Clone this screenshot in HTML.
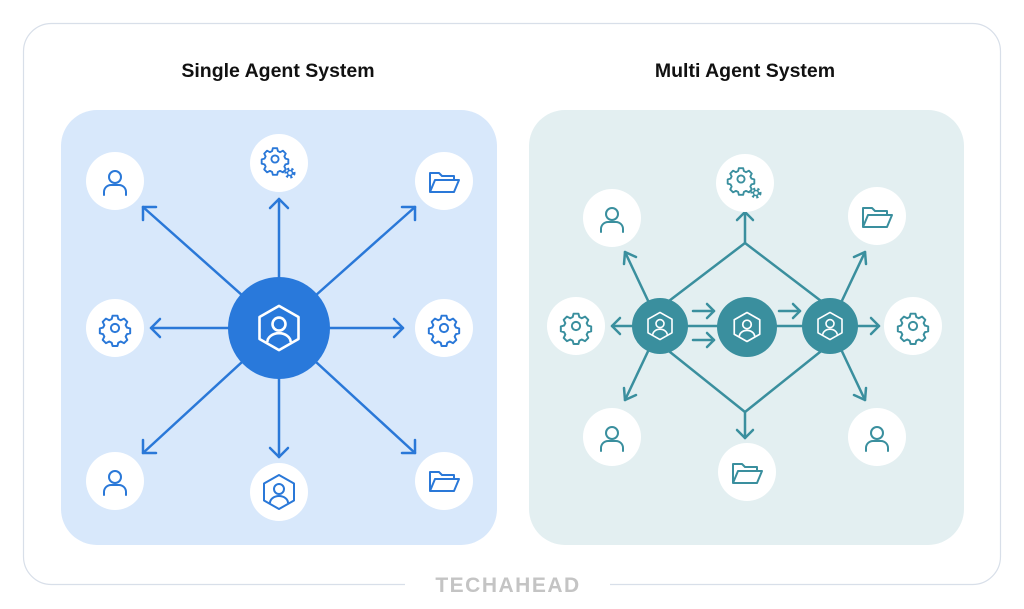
<!DOCTYPE html>
<html><head><meta charset="utf-8"><style>
html,body{margin:0;padding:0;background:#fff;}
svg{display:block}
text{font-family:"Liberation Sans",sans-serif}
</style></head><body>
<svg width="1024" height="609" viewBox="0 0 1024 609" xmlns="http://www.w3.org/2000/svg">
<defs>
<g id="person" fill="none" stroke-width="2" stroke-linecap="round">
  <circle cx="0" cy="-6" r="6"/>
  <path d="M-11 12 V9 a7 7 0 0 1 7 -7 h8 a7 7 0 0 1 7 7 V12"/>
</g>
<g id="gear" fill="none" stroke-width="2.4" stroke-linejoin="round">
  <g transform="scale(0.82)">
  <path d="M-3 -15 h6 l1 4 l3 1.5 l4 -2 l4 4 l-2 4 l1.5 3 l4 1 v6 l-4 1 l-1.5 3 l2 4 l-4 4 l-4 -2 l-3 1.5 l-1 4 h-6 l-1 -4 l-3 -1.5 l-4 2 l-4 -4 l2 -4 l-1.5 -3 l-4 -1 v-6 l4 -1 l1.5 -3 l-2 -4 l4 -4 l4 2 l3 -1.5 z"/>
  <circle cx="0" cy="0" r="5"/>
  </g>
</g>
<g id="folder" fill="none" stroke-width="2" stroke-linejoin="round">
  <path d="M-14 10 V-9 h9 l3 3 h12 v4"/>
  <path d="M-14 10 l5 -12 h24 l-5 12 z"/>
</g>
<g id="agent" fill="none" stroke-width="2" stroke-linejoin="round">
  <path d="M0 -17 L15 -8.5 V8.5 L0 17 L-15 8.5 V-8.5 Z"/>
  <circle cx="0" cy="-3" r="5"/>
  <path d="M-9 11 a9 7 0 0 1 18 0"/>
</g>
<g id="cog2" fill="none" stroke-width="2" stroke-linejoin="round">
  <g transform="translate(-4 -4) scale(0.72)"><path d="M-3 -15 h6 l1 4 l3 1.5 l4 -2 l4 4 l-2 4 l1.5 3 l4 1 v6 l-4 1 l-1.5 3 l2 4 l-4 4 l-4 -2 l-3 1.5 l-1 4 h-6 l-1 -4 l-3 -1.5 l-4 2 l-4 -4 l2 -4 l-1.5 -3 l-4 -1 v-6 l4 -1 l1.5 -3 l-2 -4 l4 -4 l4 2 l3 -1.5 z" stroke-width="2.6"/><circle r="5" stroke-width="2.6"/></g>
  <circle cx="11" cy="10" r="4" stroke-dasharray="2 2" stroke-width="3"/>
  <circle cx="11" cy="10" r="2.5" stroke-width="1.5"/>
</g>
</defs>
<rect x="23.5" y="23.5" width="977" height="561" rx="28" fill="#fff" stroke="#d8dfe9" stroke-width="1.2"/>
<rect x="405" y="578" width="205" height="14" fill="#fff"/>
<text x="508" y="592" text-anchor="middle" font-size="21" font-weight="bold" fill="#c4c4c4" letter-spacing="1.5">TECHAHEAD</text>
<text x="278" y="77" text-anchor="middle" font-size="19.5" font-weight="bold" fill="#111">Single Agent System</text>
<text x="745" y="77" text-anchor="middle" font-size="19.5" font-weight="bold" fill="#111">Multi Agent System</text>
<rect x="61" y="110" width="436" height="435" rx="36" fill="#d8e8fb"/>
<rect x="529" y="110" width="435" height="435" rx="36" fill="#e3eff1"/>

<g stroke="#2a78d8" stroke-width="2.5" fill="none" stroke-linecap="round" stroke-linejoin="round">
<line x1="279" y1="328" x2="143" y2="207"/><path d="M143 220 L143 207 L156 207"/>
<line x1="279" y1="328" x2="279" y2="199"/><path d="M270 208 L279 199 L288 208"/>
<line x1="279" y1="328" x2="415" y2="207"/><path d="M402 207 L415 207 L415 220"/>
<line x1="279" y1="328" x2="151" y2="328"/><path d="M160 319 L151 328 L160 337"/>
<line x1="279" y1="328" x2="403" y2="328"/><path d="M394 319 L403 328 L394 337"/>
<line x1="279" y1="328" x2="143" y2="453"/><path d="M143 440 L143 453 L156 453"/>
<line x1="279" y1="328" x2="279" y2="457"/><path d="M270 448 L279 457 L288 448"/>
<line x1="279" y1="328" x2="415" y2="453"/><path d="M402 453 L415 453 L415 440"/>
</g>
<circle cx="279" cy="328" r="51" fill="#2979db"/>
<g transform="translate(279 328) scale(1.3)"><use href="#agent" stroke="#fff"/></g>
<g fill="#fff">
<circle cx="115" cy="181" r="29"/><circle cx="279" cy="163" r="29"/><circle cx="444" cy="181" r="29"/>
<circle cx="115" cy="328" r="29"/><circle cx="444" cy="328" r="29"/>
<circle cx="115" cy="481" r="29"/><circle cx="279" cy="492" r="29"/><circle cx="444" cy="481" r="29"/>
</g>
<g stroke="#2a78d8">
<use href="#person" x="115" y="183"/><use href="#cog2" x="279" y="163"/><use href="#folder" x="444" y="182"/>
<use href="#gear" x="115" y="328"/><use href="#gear" x="444" y="328"/>
<use href="#person" x="115" y="483"/><use href="#agent" x="279" y="492"/><use href="#folder" x="444" y="481"/>
</g>

<g stroke="#3a8f9e" stroke-width="2.5" fill="none" stroke-linecap="round" stroke-linejoin="round">
<path d="M665 304 L745 243 L825 304"/><line x1="745" y1="243" x2="745" y2="212"/><path d="M737 220 L745 212 L753 220"/>
<path d="M665 348 L745 412 L825 348"/><line x1="745" y1="412" x2="745" y2="438"/><path d="M737 430 L745 438 L753 430"/>
<line x1="660" y1="326" x2="830" y2="326"/>
<line x1="660" y1="326" x2="625" y2="252"/><path d="M624 264 L625 252 L636 257"/>
<line x1="660" y1="326" x2="625" y2="400"/><path d="M624 388 L625 400 L636 395"/>
<line x1="660" y1="326" x2="612" y2="326"/><path d="M620 318 L612 326 L620 334"/>
<line x1="830" y1="326" x2="865" y2="252"/><path d="M866 264 L865 252 L854 257"/>
<line x1="830" y1="326" x2="865" y2="400"/><path d="M866 388 L865 400 L854 395"/>
<line x1="830" y1="326" x2="879" y2="326"/><path d="M871 318 L879 326 L871 334"/>
<line x1="693" y1="311" x2="714" y2="311"/><path d="M707 304 L714 311 L707 318"/>
<line x1="693" y1="340" x2="714" y2="340"/><path d="M707 333 L714 340 L707 347"/>
<line x1="779" y1="311" x2="800" y2="311"/><path d="M793 304 L800 311 L793 318"/>
</g>
<g fill="#3a8f9e"><circle cx="660" cy="326" r="28"/><circle cx="747" cy="327" r="30"/><circle cx="830" cy="326" r="28"/></g>
<g stroke="#fff" stroke-width="1.5">
<g transform="translate(660 326) scale(0.8)"><use href="#agent"/></g>
<g transform="translate(747 327) scale(0.85)"><use href="#agent"/></g>
<g transform="translate(830 326) scale(0.8)"><use href="#agent"/></g>
</g>
<g fill="#fff">
<circle cx="612" cy="218" r="29"/><circle cx="745" cy="183" r="29"/><circle cx="877" cy="216" r="29"/>
<circle cx="576" cy="326" r="29"/><circle cx="913" cy="326" r="29"/>
<circle cx="612" cy="437" r="29"/><circle cx="747" cy="472" r="29"/><circle cx="877" cy="437" r="29"/>
</g>
<g stroke="#3a8f9e">
<use href="#person" x="612" y="220"/><use href="#cog2" x="745" y="183"/><use href="#folder" x="877" y="217"/>
<use href="#gear" x="576" y="326"/><use href="#gear" x="913" y="326"/>
<use href="#person" x="612" y="439"/><use href="#folder" x="747" y="473"/><use href="#person" x="877" y="439"/>
</g>
</svg>
</body></html>
